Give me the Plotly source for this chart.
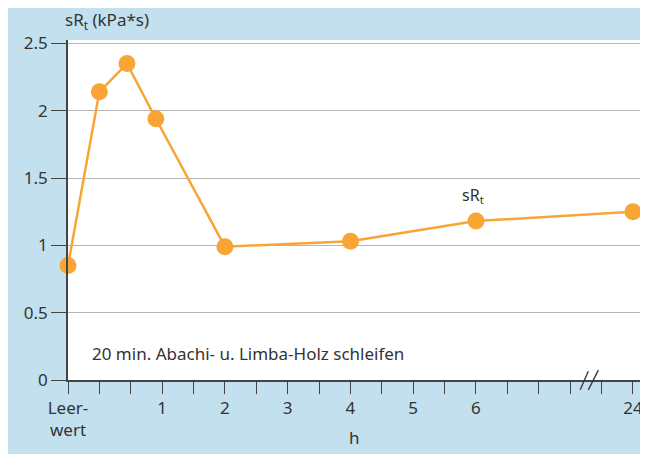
import plotly.graph_objects as go

# Data (x in display units: Leerwert=-0.5, hours 0..8, 24 h shown at 8.5 after axis break)
x_pos = [-0.5, 0.0, 0.44, 0.9, 2.0, 4.0, 6.0, 8.5]
srt = [0.85, 2.14, 2.35, 1.94, 0.99, 1.03, 1.18, 1.25]

tick_vals = [-0.5 + 0.5 * i for i in range(19)]
tick_text = ["Leer-<br>wert", "", "", "1", "", "2", "", "3", "", "4", "", "5", "", "6", "", "", "", "", "24"]

y_ticks = [0, 0.5, 1, 1.5, 2, 2.5]
y_text = ["0", "0.5", "1", "1.5", "2", "2.5"]

ORANGE = "#f8a536"
BLUE = "#c3e0ee"
TXT = "#333333"
FONT = "Noto Sans"

fig = go.Figure()
fig.add_trace(go.Scatter(
    x=x_pos, y=srt, mode="lines+markers",
    line=dict(color=ORANGE, width=2.5),
    marker=dict(color=ORANGE, size=17),
    cliponaxis=False, showlegend=False, hoverinfo="skip",
))

fig.update_layout(
    width=640, height=446,
    margin=dict(l=60, r=6, t=32, b=74),
    paper_bgcolor=BLUE,
    plot_bgcolor="white",
    font=dict(family=FONT, size=17, color=TXT),
    xaxis=dict(
        range=[-0.5, 8.645], tickmode="array", tickvals=tick_vals, ticktext=tick_text,
        ticks="outside", ticklen=12, tickwidth=1.2, tickcolor="#444",
        showline=True, linecolor="#444", linewidth=1.5,
        showgrid=False, zeroline=False, tickfont=dict(size=17, color=TXT),
    ),
    yaxis=dict(
        range=[0, 2.525], tickmode="array", tickvals=y_ticks, ticktext=y_text,
        ticks="outside", ticklen=15, tickwidth=1.2, tickcolor="#444",
        showline=True, linecolor="#444", linewidth=1.5,
        showgrid=True, gridcolor="#b5b5b5", gridwidth=1,
        zeroline=False, tickfont=dict(size=17, color=TXT),
    ),
    shapes=[
        dict(type="line", xref="x", yref="paper", x0=7.66, y0=-0.029, x1=7.79, y1=0.026,
             line=dict(color="#333", width=1.3)),
        dict(type="line", xref="x", yref="paper", x0=7.79, y0=-0.029, x1=7.95, y1=0.029,
             line=dict(color="#333", width=1.3)),
    ],
    annotations=[
        dict(text="sR<sub>t</sub> (kPa*s)", xref="paper", yref="paper", x=-0.009, y=1.015,
             xanchor="left", yanchor="bottom", showarrow=False, font=dict(size=17, color=TXT)),
        dict(text="h", xref="x", yref="paper", x=4.07, y=-0.13, xanchor="center", yanchor="top",
             showarrow=False, font=dict(size=17, color=TXT)),
        dict(text="sR<sub>t</sub>", xref="x", yref="y", x=5.95, y=1.37, xanchor="center",
             yanchor="middle", showarrow=False, font=dict(size=16, color=TXT)),
        dict(text="20 min. Abachi- u. Limba-Holz schleifen", xref="x", yref="y", x=-0.154, y=0.2,
             xanchor="left", yanchor="middle", showarrow=False, font=dict(size=17, color=TXT)),
    ],
)

fig.write_html("out.html")
